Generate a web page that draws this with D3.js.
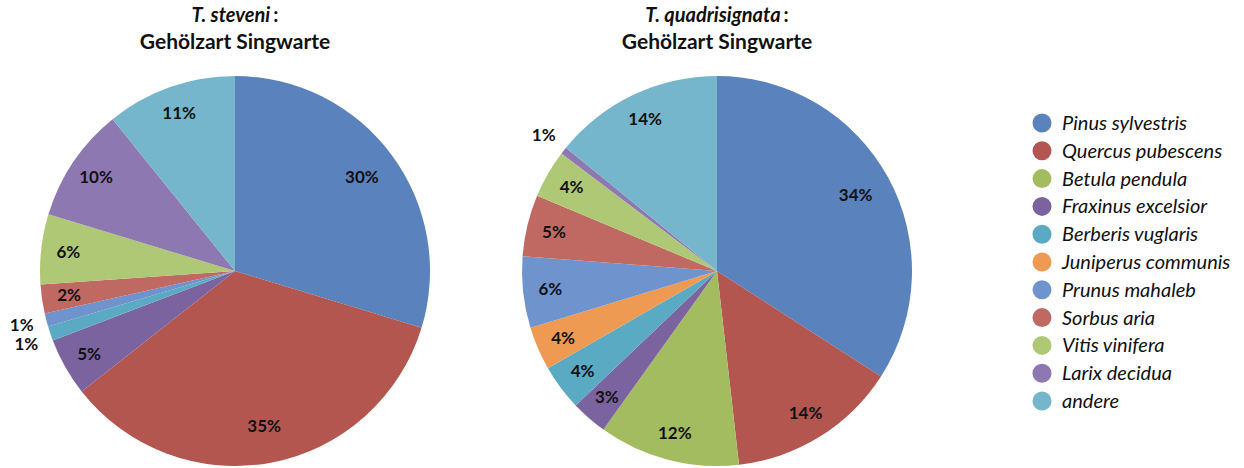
<!DOCTYPE html>
<html>
<head>
  <meta charset="utf-8"/>
  <title>Gehölzart Singwarte</title>
  <script src="https://d3js.org/d3.v7.min.js"></script>
  <style>
    body { margin: 0; background: #fff; }
    text { font-family: Lato, "Open Sans", sans-serif; fill: #111; }
  </style>
</head>
<body>
<div id="chart"></div>
<script>
// species shown in the legend (same order as slices, clockwise from 12 o'clock)
var species = ["Pinus sylvestris", "Quercus pubescens", "Betula pendula", "Fraxinus excelsior",
  "Berberis vuglaris", "Juniperus communis", "Prunus mahaleb", "Sorbus aria",
  "Vitis vinifera", "Larix decidua", "andere"]
var colors = ["#5a82bc", "#b3564f", "#a2bc5f", "#7b63a0", "#5aaac4", "#ef9a52",
  "#6e93cd", "#c06962", "#afc875", "#8e78b2", "#76b6cc"]

// share of song posts per tree species, percent
var stevShare = [29.7, 34.7, 0, 4.8, 1.2, 0, 1.1, 2.4, 5.8, 9.5, 10.8]
var quadShare = [34.1, 14.1, 11.7, 3.0, 3.8, 3.6, 5.9, 5.1, 4.0, 0.6, 14.1]

var width = 1244, height = 468
var radius = 195

var svg = d3.select("#chart").append("svg")
  .attr("width", width)
  .attr("height", height)

var color = d3.scaleOrdinal().domain(species).range(colors)

function drawPie(cx, cy, name, values) {
  // title
  var title = svg.append("text")
    .attr("x", cx).attr("y", 22)
    .attr("text-anchor", "middle")
    .style("font-size", "20px")
  title.append("tspan").text(name).style("font-style", "italic").style("font-weight", 700)
  title.append("tspan").text(":").attr("dx", 3).style("font-weight", 700)
  svg.append("text")
    .attr("x", cx).attr("y", 49)
    .attr("text-anchor", "middle")
    .style("font-size", "21px")
    .style("font-weight", 700)
    .text("Gehölzart Singwarte")

  var data = species.map(function(s, i) { return { key: s, value: values[i] } })
  var pie = d3.pie().sort(null).value(function(d) { return d.value })
  var arcs = pie(data).filter(function(d) { return d.data.value > 0 })

  var g = svg.append("g").attr("transform", "translate(" + cx + "," + cy + ")")
  var arc = d3.arc().innerRadius(0).outerRadius(radius)

  g.selectAll("path")
    .data(arcs)
    .enter()
    .append("path")
    .attr("d", arc)
    .attr("fill", function(d) { return color(d.data.key) })

  // label positions: big slices a bit further in, tiny ones outside the pie
  arcs.forEach(function(d) {
    var a = (d.startAngle + d.endAngle) / 2
    var r = d.data.value < 1.5 ? radius * 1.13 : (d.data.value >= 20 ? radius * 0.81 : radius * 0.86)
    d.lx = Math.sin(a) * r
    d.ly = -Math.cos(a) * r
    d.outside = d.data.value < 1.5
  })
  // keep outside labels from sitting on top of each other
  var outs = arcs.filter(function(d) { return d.outside }).sort(function(a, b) { return a.ly - b.ly })
  for (var i = 1; i < outs.length; i++) {
    var gap = outs[i].ly - outs[i - 1].ly
    if (gap < 19) {
      var push = (19 - gap) / 2
      outs[i - 1].ly -= push
      outs[i].ly += push
    }
  }

  g.selectAll("text.lbl")
    .data(arcs)
    .enter()
    .append("text")
    .attr("class", "lbl")
    .attr("x", function(d) { return d.lx })
    .attr("y", function(d) { return d.ly })
    .attr("text-anchor", "middle")
    .attr("dy", "0.35em")
    .style("font-size", "17px")
    .style("font-weight", 700)
    .text(function(d) { return Math.round(d.data.value) + "%" })
}

drawPie(235, 271, "T. steveni", stevShare)
drawPie(717, 271, "T. quadrisignata", quadShare)

// legend
var legend = svg.append("g").attr("transform", "translate(1042,123)")
var row = legend.selectAll("g")
  .data(species)
  .enter()
  .append("g")
  .attr("transform", function(d, i) { return "translate(0," + (i * 27.8) + ")" })
row.append("circle")
  .attr("r", 9.5)
  .attr("fill", function(d) { return color(d) })
row.append("text")
  .attr("x", 20)
  .attr("dy", "0.35em")
  .style("font-size", "20px")
  .style("font-style", "italic")
  .text(function(d) { return d })
</script>
</body>
</html>
